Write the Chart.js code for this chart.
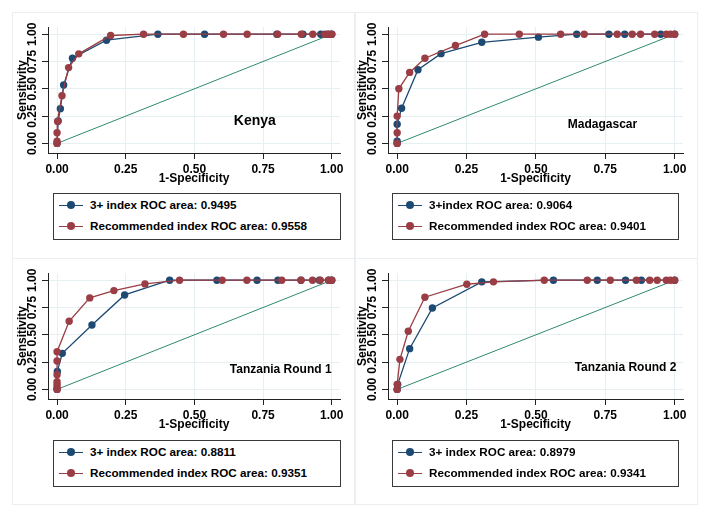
<!DOCTYPE html>
<html>
<head>
<meta charset="utf-8">
<script src="https://cdn.jsdelivr.net/npm/chart.js@4"></script>
<style>
  body { margin: 0; background: #fff; font-family: "Liberation Sans", Arial, sans-serif; }
  #wrap { position: relative; width: 710px; height: 517px; overflow: hidden; background: #fff; }
  .frame { position: absolute; border: 1px solid #eceff1; box-sizing: border-box; }
  canvas { position: absolute; }
  .legend { position: absolute; border: 1px solid #3a3a3a; box-sizing: border-box; font-weight: bold; font-size: 11.7px; color: #000; }
  .row { position: absolute; left: 0; height: 14px; line-height: 14px; white-space: nowrap; }
  .key { position: absolute; left: 5px; top: 6.5px; width: 24px; height: 1.3px; }
  .dot { position: absolute; left: 8px; top: -3.5px; width: 8px; height: 8px; border-radius: 50%; }
  .txt { position: absolute; left: 36px; top: 0; }
</style>
</head>
<body>
<div id="wrap">
  <div class="frame" style="left:12px;top:12px;width:343px;height:247px"></div>
  <div class="frame" style="left:355px;top:12px;width:343px;height:247px"></div>
  <div class="frame" style="left:12px;top:258px;width:343px;height:247px"></div>
  <div class="frame" style="left:355px;top:258px;width:343px;height:247px"></div>
</div>
<script>
// ROC points (x = 1-specificity, y = sensitivity)
var axisTicks = [0, 0.25, 0.5, 0.75, 1];
var diagX = [0, 1];
var diagY = [0, 1];

var kenyaX3 = [0, 0.004, 0.012, 0.024, 0.056, 0.18, 0.367, 0.537, 0.80, 0.895, 0.96, 0.985, 1];
var kenyaY3 = [0, 0.205, 0.318, 0.535, 0.78, 0.945, 1, 1, 1, 1, 1, 1, 1];
var kenyaXRec = [0, 0, 0, 0.002, 0.018, 0.042, 0.079, 0.195, 0.315, 0.46, 0.606, 0.692, 0.803, 0.889, 0.931, 0.975, 0.99, 1];
var kenyaYRec = [0, 0.02, 0.098, 0.2, 0.437, 0.694, 0.82, 0.988, 1, 1, 1, 1, 1, 1, 1, 1, 1, 1];

var madaX3 = [0, 0, 0, 0.016, 0.075, 0.158, 0.305, 0.509, 0.647, 0.763, 0.82, 0.95, 1];
var madaY3 = [0, 0.02, 0.175, 0.322, 0.675, 0.822, 0.926, 0.973, 1, 1, 1, 1, 1];
var madaXRec = [0, 0, 0, 0.006, 0.045, 0.10, 0.21, 0.315, 0.44, 0.589, 0.674, 0.793, 0.847, 0.877, 0.928, 0.97, 0.985, 1];
var madaYRec = [0, 0.098, 0.25, 0.5, 0.65, 0.78, 0.896, 1, 1, 1, 1, 1, 1, 1, 1, 1, 1, 1];

var tz1X3 = [0, 0.001, 0.019, 0.127, 0.246, 0.41, 0.582, 0.728, 0.804, 0.888, 0.955, 0.989, 1];
var tz1Y3 = [0, 0.165, 0.33, 0.59, 0.865, 1, 1, 1, 1, 1, 1, 1, 1];
var tz1XRec = [0, 0, 0, 0, 0, 0, 0, 0.044, 0.119, 0.207, 0.32, 0.446, 0.601, 0.691, 0.818, 0.888, 0.93, 0.958, 0.988, 1];
var tz1YRec = [0, 0.02, 0.045, 0.07, 0.135, 0.26, 0.345, 0.624, 0.838, 0.905, 0.966, 1, 1, 1, 1, 1, 1, 1, 1, 1];

var tz2X3 = [0, 0.002, 0.045, 0.127, 0.305, 0.563, 0.721, 0.823, 0.88, 1];
var tz2Y3 = [0, 0.046, 0.373, 0.746, 0.985, 1, 1, 1, 1, 1];
var tz2XRec = [0, 0, 0.01, 0.04, 0.10, 0.251, 0.347, 0.53, 0.685, 0.768, 0.862, 0.91, 0.937, 0.97, 0.985, 1];
var tz2YRec = [0, 0.046, 0.275, 0.532, 0.844, 0.963, 0.985, 1, 1, 1, 1, 1, 1, 1, 1, 1];

var blue = '#1d4a73';
var red = '#9a3d44';
var green = '#2f8a6e';
var tickFont = { family: '"Liberation Sans", Arial, sans-serif', size: 12, weight: 'bold' };

function toPts(xs, ys) {
  return xs.map(function(x, i) { return { x: x, y: ys[i] }; });
}

// country name written inside the plot, placed in data units
var panelLabel = {
  id: 'panelLabel',
  afterDatasetsDraw: function(chart, args, opts) {
    var c = chart.ctx;
    c.save();
    c.font = 'bold ' + opts.size + 'px "Liberation Sans", Arial, sans-serif';
    c.fillStyle = '#000';
    c.textAlign = 'center';
    c.textBaseline = 'middle';
    c.fillText(opts.text, chart.scales.x.getPixelForValue(opts.x), chart.scales.y.getPixelForValue(opts.y));
    c.restore();
  }
};

function addLegend(left, top, width, label1, label2) {
  var box = document.createElement('div');
  box.className = 'legend';
  box.style.left = left + 'px';
  box.style.top = top + 'px';
  box.style.width = width + 'px';
  box.style.height = '47px';
  [[label1, blue, 4], [label2, red, 25]].forEach(function(r) {
    var row = document.createElement('div');
    row.className = 'row';
    row.style.top = r[2] + 'px';
    row.innerHTML = '<div class="key" style="background:' + r[1] + '"><div class="dot" style="background:' + r[1] + '"></div></div>' +
      '<span class="txt">' + r[0] + '</span>';
    box.appendChild(row);
  });
  document.getElementById('wrap').appendChild(box);
}

function makePanel(left, top, padRight, name, nameSize, lx, ly, x3, y3, xr, yr, label1, label2) {
  var cv = document.createElement('canvas');
  cv.width = 355;
  cv.height = 187;
  cv.style.left = left + 'px';
  cv.style.top = top + 'px';
  document.getElementById('wrap').appendChild(cv);

  new Chart(cv.getContext('2d'), {
    type: 'scatter',
    data: {
      datasets: [
        { label: 'reference', data: toPts(diagX, diagY), showLine: true, borderColor: green, borderWidth: 1, pointRadius: 0, order: 3 },
        { label: label1, data: toPts(x3, y3), showLine: true, borderColor: blue, backgroundColor: blue, borderWidth: 1.3, pointRadius: 3.7, pointBorderWidth: 0, order: 2 },
        { label: label2, data: toPts(xr, yr), showLine: true, borderColor: red, backgroundColor: red, borderWidth: 1.3, pointRadius: 3.7, pointBorderWidth: 0, order: 1 }
      ]
    },
    options: {
      responsive: false,
      animation: false,
      events: [],
      layout: { padding: { left: 12, top: 27, right: padRight, bottom: 0 } },
      plugins: {
        legend: { display: false },
        tooltip: { enabled: false },
        panelLabel: { text: name, size: nameSize, x: lx, y: ly }
      },
      scales: {
        x: {
          type: 'linear', min: -0.033, max: 1.03,
          afterBuildTicks: function(s) { s.ticks = axisTicks.map(function(v) { return { value: v }; }); },
          afterFit: function(s) { s.height = 34; },
          ticks: { callback: function(v) { return v.toFixed(2); }, font: tickFont, color: '#000', padding: 3, maxRotation: 0 },
          grid: { color: '#e6eff1', tickColor: '#222', tickLength: 6 },
          border: { color: '#222', width: 1 },
          title: { display: true, text: '1-Specificity', font: tickFont, color: '#000', padding: { top: 0, bottom: 1 } }
        },
        y: {
          type: 'linear', min: -0.088, max: 1.066,
          afterBuildTicks: function(s) { s.ticks = axisTicks.map(function(v) { return { value: v }; }); },
          afterFit: function(s) { s.width = 36; },
          ticks: { callback: function(v) { return v.toFixed(2); }, font: tickFont, color: '#000', minRotation: 90, maxRotation: 90, crossAlign: 'center', padding: -2 },
          grid: { color: '#e6eff1', tickColor: '#222', tickLength: 6 },
          border: { color: '#222', width: 1 },
          title: { display: true, text: 'Sensitivity', font: tickFont, color: '#000', padding: { top: 3, bottom: 0 } }
        }
      }
    },
    plugins: [panelLabel]
  });
}

makePanel(0, 0, 15, 'Kenya', 14, 0.72, 0.205, kenyaX3, kenyaY3, kenyaXRec, kenyaYRec,
  '3+ index ROC area: 0.9495', 'Recommended index ROC area: 0.9558');
makePanel(340, 0, 12, 'Madagascar', 12, 0.74, 0.168, madaX3, madaY3, madaXRec, madaYRec,
  '3+index ROC area: 0.9064', 'Recommended index ROC area: 0.9401');
makePanel(0, 246, 15, 'Tanzania Round 1', 12, 0.814, 0.177, tz1X3, tz1Y3, tz1XRec, tz1YRec,
  '3+ index ROC area: 0.8811', 'Recommended index ROC area: 0.9351');
makePanel(340, 246, 12, 'Tanzania Round 2', 12, 0.823, 0.195, tz2X3, tz2Y3, tz2XRec, tz2YRec,
  '3+ index ROC area: 0.8979', 'Recommended index ROC area: 0.9341');

addLegend(53, 193, 288, '3+ index ROC area: 0.9495', 'Recommended index ROC area: 0.9558');
addLegend(392, 193, 287, '3+index ROC area: 0.9064', 'Recommended index ROC area: 0.9401');
addLegend(53, 440, 288, '3+ index ROC area: 0.8811', 'Recommended index ROC area: 0.9351');
addLegend(392, 440, 287, '3+ index ROC area: 0.8979', 'Recommended index ROC area: 0.9341');
</script>
</body>
</html>
